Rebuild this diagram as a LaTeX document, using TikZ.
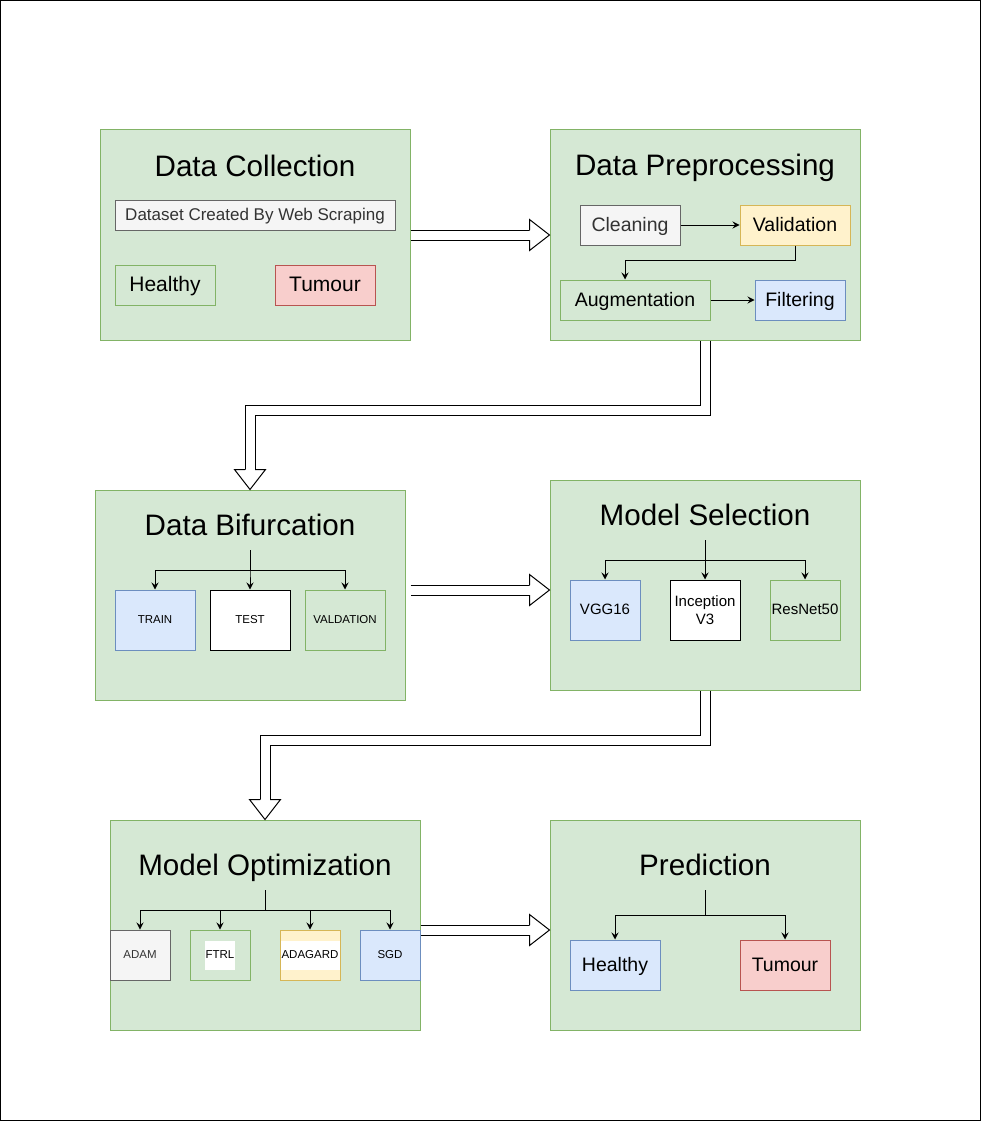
\documentclass[tikz,border=0pt]{standalone}
\usepackage{fontspec}
\setmainfont{Liberation Sans}
\usetikzlibrary{arrows.meta, calc}

\definecolor{grnF}{HTML}{D5E8D4}
\definecolor{grnD}{HTML}{82B366}
\definecolor{gryF}{HTML}{F5F5F5}
\definecolor{gryD}{HTML}{666666}
\definecolor{gryT}{HTML}{333333}
\definecolor{yelF}{HTML}{FFF2CC}
\definecolor{yelD}{HTML}{D6B656}
\definecolor{bluF}{HTML}{DAE8FC}
\definecolor{bluD}{HTML}{6C8EBF}
\definecolor{redF}{HTML}{F8CECC}
\definecolor{redD}{HTML}{B85450}

\begin{document}
\begin{tikzpicture}[x=1pt, y=-1pt, line width=1pt,
    >={Stealth[length=7pt, width=7pt, inset=2.5pt]},
    panel/.style={draw=grnD, fill=grnF, minimum width=310pt, minimum height=210pt, inner sep=0pt},
    heading/.style={font=\fontsize{29.6}{34}\selectfont, anchor=base, inner sep=0pt},
    fs/.style={font=\fontsize{#1}{#1}\selectfont, text height=0.8*#1, text depth=0.16*#1},
    sz/.style 2 args={minimum width=#1pt, minimum height=#2pt},
    grayb/.style={draw=gryD, fill=gryF, text=gryT, inner sep=0pt},
    greenb/.style={draw=grnD, fill=grnF, inner sep=0pt},
    yellowb/.style={draw=yelD, fill=yelF, inner sep=0pt},
    blueb/.style={draw=bluD, fill=bluF, inner sep=0pt},
    redb/.style={draw=redD, fill=redF, inner sep=0pt},
    whiteb/.style={draw, fill=white, inner sep=0pt},
    labelbg/.style={path picture={\fill[white] ($(path picture bounding box.center)+(-#1,-14.5)$) rectangle ($(path picture bounding box.center)+(#1,14.5)$);}},
    flow/.style={draw, double=white, double distance=9pt},
    flowhead/.pic={\draw[fill=white, line join=miter] (-20,-5) -- (-20,-15.5) -- (0,0) -- (-20,15.5) -- (-20,5);}
]
\useasboundingbox (0,0) rectangle (981,1121);
\draw (0.5,0.5) rectangle (980.5,1120.5);

\node[panel] (dc) at (255,235) {};
\node[panel] (dp) at (705,235) {};
\node[panel] (db) at (250,595) {};
\node[panel] (ms) at (705,585) {};
\node[panel] (mo) at (265,925) {};
\node[panel] (pr) at (705,925) {};

\draw[flow] (dc.east) -- ($(dp.west)+(-20,0)$);
\pic at (dp.west) {flowhead};
\draw[flow] (dp.south) -- ++(0,70) -| ($(db.north)+(0,-20)$);
\pic[rotate=-90] at (db.north) {flowhead};
\draw[flow] ($(db.east)+(5,-5)$) -- ($(ms.west)+(-20,5)$);
\pic at ($(ms.west)+(0,5)$) {flowhead};
\draw[flow] (ms.south) -- ++(0,50) -| ($(mo.north)+(0,-20)$);
\pic[rotate=-90] at (mo.north) {flowhead};
\draw[flow] ($(mo.east)+(0,5)$) -- ($(pr.west)+(-20,5)$);
\pic at ($(pr.west)+(0,5)$) {flowhead};

\node[heading] (dctitle) at (255,176) {Data Collection};
\node[grayb, fs=17, sz={280}{30}] (web) at (255,215) {Dataset Created By Web Scraping};
\node[greenb, fs=21, sz={100}{40}] (dchl) at (165,285) {Healthy};
\node[redb, fs=21, sz={100}{40}] (dctm) at (325,285) {Tumour};

\node[heading] (dptitle) at (705,175) {Data Preprocessing};
\node[grayb, fs=19.5, sz={100}{40}] (cln) at (630,225) {Cleaning};
\node[yellowb, fs=19.5, sz={110}{40}] (val) at (795,225) {Validation};
\node[greenb, fs=19.5, sz={150}{40}] (aug) at (635,300) {Augmentation};
\node[blueb, fs=19.5, sz={90}{40}] (flt) at (800,300) {Filtering};
\draw[->] (cln) -- (val);
\draw[->] (val.south) -- ++(0,15) -| ([xshift=-10pt]aug.north);
\draw[->] (aug) -- (flt);

\node[heading] (dbtitle) at (250,535) {Data Bifurcation};
\node[blueb, fs=11.5, sz={80}{60}] (trn) at (155,620) {TRAIN};
\node[whiteb, fs=11.5, sz={80}{60}] (tst) at (250,620) {TEST};
\node[greenb, fs=11.5, sz={80}{60}] (vld) at (345,620) {VALDATION};
\coordinate (dbs) at (250,550);
\foreach \n in {trn,tst,vld}
    \draw[->] (dbs) -- ++(0,20) -| (\n);

\node[heading] (mstitle) at (705,525) {Model Selection};
\node[blueb, fs=15, sz={70}{60}] (vgg) at (605,610) {VGG16};
\node[whiteb, font=\fontsize{15}{18}\selectfont, align=center, sz={70}{60}] (inc) at (705,610) {Inception\\V3};
\node[greenb, fs=15, sz={70}{60}] (res) at (805,610) {ResNet50};
\coordinate (mss) at (705,540);
\foreach \n in {vgg,inc,res}
    \draw[->] (mss) -- ++(0,20) -| (\n);

\node[heading] (motitle) at (265,875) {Model Optimization};
\node[grayb, fs=11.5, sz={60}{50}] (adam) at (140,955) {ADAM};
\node[greenb, fs=11.5, sz={60}{50}, labelbg=15] (ftrl) at (220,955) {FTRL};
\node[yellowb, fs=11.5, sz={60}{50}, labelbg=30] (adag) at (310,955) {ADAGARD};
\node[blueb, fs=11.5, sz={60}{50}] (sgd) at (390,955) {SGD};
\coordinate (mos) at (265,890);
\foreach \n in {adam,ftrl,adag,sgd}
    \draw[->] (mos) -- ++(0,20) -| (\n);

\node[heading] (prtitle) at (705,875) {Prediction};
\node[blueb, fs=19.5, sz={90}{50}] (prhl) at (615,965) {Healthy};
\node[redb, fs=19.5, sz={90}{50}] (prtm) at (785,965) {Tumour};
\coordinate (prs) at (705,890);
\foreach \n in {prhl,prtm}
    \draw[->] (prs) -- ++(0,25) -| (\n);
\end{tikzpicture}
\end{document}
